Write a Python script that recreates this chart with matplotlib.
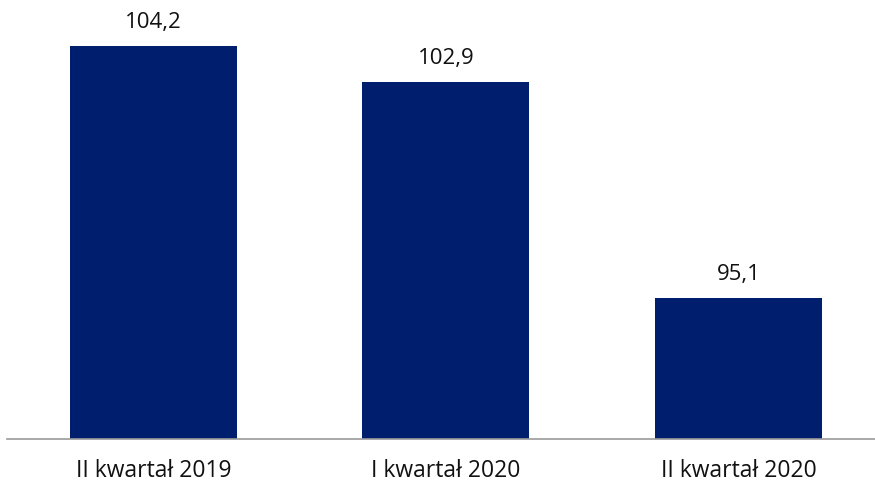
import matplotlib
matplotlib.use("Agg")
import matplotlib.pyplot as plt

categories = ["II kwartał 2019", "I kwartał 2020", "II kwartał 2020"]
values = [104.2, 102.9, 95.1]
value_labels = ["104,2", "102,9", "95,1"]

plt.rcParams['font.family'] = ['Open Sans', 'DejaVu Sans']

W, H = 875, 482
DPI = 100
fig = plt.figure(figsize=(W / DPI, H / DPI), dpi=DPI)
ax = fig.add_axes([7 / W, 43 / H, (W - 7) / W, (H - 43) / H])

x = list(range(len(categories)))
ax.bar(x, values, width=0.571, color="#001E6E", bottom=0)
ax.set_xlim(-0.501, 2.467)
ax.set_ylim(90, 105.85)

px = 72 / DPI  # points per pixel
for xi, v, lab in zip(x, values, value_labels):
    ax.annotate(lab, (xi, v), xytext=(0, 18 * px), textcoords="offset points",
                ha="center", va="baseline", fontsize=16, color="#111111")

for xi, cat in zip(x, categories):
    ax.annotate(cat, (xi, 0), xycoords=("data", "axes fraction"),
                xytext=(0, -38 * px), textcoords="offset points",
                ha="center", va="baseline", fontsize=16.5, color="#111111",
                annotation_clip=False)

ax.set_xticks([])
ax.set_yticks([])
for s in ["top", "right", "left"]:
    ax.spines[s].set_visible(False)
ax.spines["bottom"].set_color("#9a9a9a")
ax.spines["bottom"].set_linewidth(1.2)
ax.patch.set_alpha(0)

fig.savefig("out.png", dpi=DPI)
